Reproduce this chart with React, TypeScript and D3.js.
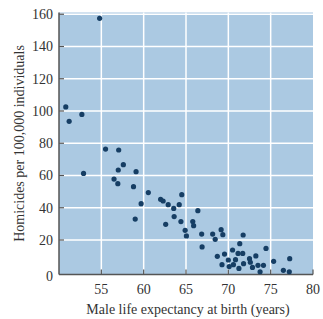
import * as d3 from 'd3'

const lifeExpectancy = [
  50.8, 51.2, 52.7, 52.9, 54.8, 55.5, 57.05, 56.5, 57.0, 56.95, 57.6, 58.8, 59.1, 59.0, 59.7,
  60.55, 62.0, 62.3, 62.9, 62.6, 63.55, 63.6, 64.2, 64.5, 64.4, 64.9, 65.05, 65.8, 65.9, 66.4,
  66.85, 66.9, 68.15, 68.45, 68.7, 69.15, 69.35, 69.25, 69.55, 70.0, 70.1, 70.5, 70.6, 70.85,
  71.15, 71.35, 71.25, 71.75, 71.7, 71.8, 72.5, 72.6, 72.85, 73.25, 73.5, 73.75, 74.15, 74.45,
  75.35, 76.5, 77.25, 77.2,
]
const homicides = [
  102.5, 93.6, 97.9, 61.3, 157.5, 76.4, 75.8, 57.8, 63.4, 54.9, 66.7, 53.1, 62.4, 33.0, 42.5,
  49.4, 45.2, 44.2, 41.9, 29.7, 39.6, 34.5, 41.9, 48.1, 31.4, 26.0, 22.5, 31.4, 28.9, 38.2,
  23.7, 15.7, 23.7, 20.4, 9.9, 26.4, 23.3, 4.7, 11.3, 7.6, 3.5, 13.8, 4.7, 7.8, 11.7, 17.7,
  2.4, 23.1, 11.7, 5.3, 8.4, 6.2, 3.0, 10.1, 4.3, 0.3, 4.3, 14.8, 6.8, 1.2, 8.4, 0.3,
]
const xTicks = [55, 60, 65, 70, 75, 80]
const yTicks = [0, 20, 40, 60, 80, 100, 120, 140, 160]

const W = 323
const H = 319
const FONT = '"Liberation Serif", "DejaVu Serif", serif'

export default function App() {
  const x = d3.scaleLinear().domain([50, 80]).range([59, 313])
  const y = d3.scaleLinear().domain([0, 160]).range([272.25, 14.25])
  const top = y(161.1)
  const bottom = y(-1.4)
  const left = x(50)
  const right = x(80)

  return (
    <svg
      width={W}
      height={H}
      style={{ position: 'absolute', left: 0, top: 0, background: '#fff' }}
    >
      <rect x={left} y={top} width={right - left} height={bottom - top} fill="#abc9e2" />

      {/* grid */}
      {xTicks.slice(0, -1).map((t) => (
        <line key={'gx' + t} x1={x(t)} x2={x(t)} y1={top} y2={bottom} stroke="#fff" strokeWidth={1.5} />
      ))}
      {yTicks.slice(1).map((t) => (
        <line key={'gy' + t} x1={left} x2={right} y1={y(t)} y2={y(t)} stroke="#fff" strokeWidth={1.5} />
      ))}

      {/* axes */}
      <line x1={left} x2={left} y1={top} y2={bottom} stroke="#555" strokeWidth={1.5} />
      <line x1={left} x2={right} y1={bottom} y2={bottom} stroke="#555" strokeWidth={1.5} />
      {yTicks.map((t) => (
        <g key={'ty' + t}>
          {t > 0 && (
            <line x1={left} x2={left + 5} y1={y(t)} y2={y(t)} stroke="#555" strokeWidth={1.2} />
          )}
          <text
            x={53}
            y={t === 0 ? bottom + 2 : y(t)}
            dy="0.34em"
            textAnchor="end"
            fontFamily={FONT}
            fontSize={14}
            fill="#333"
          >
            {t}
          </text>
        </g>
      ))}
      {xTicks.map((t) => (
        <g key={'tx' + t}>
          <line x1={x(t)} x2={x(t)} y1={bottom} y2={bottom - 5} stroke="#555" strokeWidth={1.2} />
          <text x={x(t)} y={294} textAnchor="middle" fontFamily={FONT} fontSize={14} fill="#333">
            {t}
          </text>
        </g>
      ))}

      {/* points */}
      {lifeExpectancy.map((v, i) => (
        <circle key={i} cx={x(v)} cy={y(homicides[i])} r={2.6} fill="#163e64" />
      ))}

      <text
        x={(left + right) / 2 + 2}
        y={314}
        textAnchor="middle"
        fontFamily={FONT}
        fontSize={14}
        fill="#333"
      >
        Male life expectancy at birth (years)
      </text>
      <text
        transform={`translate(24, ${(top + bottom) / 2}) rotate(-90)`}
        textAnchor="middle"
        fontFamily={FONT}
        fontSize={14}
        fill="#333"
      >
        Homicides per 100,000 individuals
      </text>
    </svg>
  )
}
